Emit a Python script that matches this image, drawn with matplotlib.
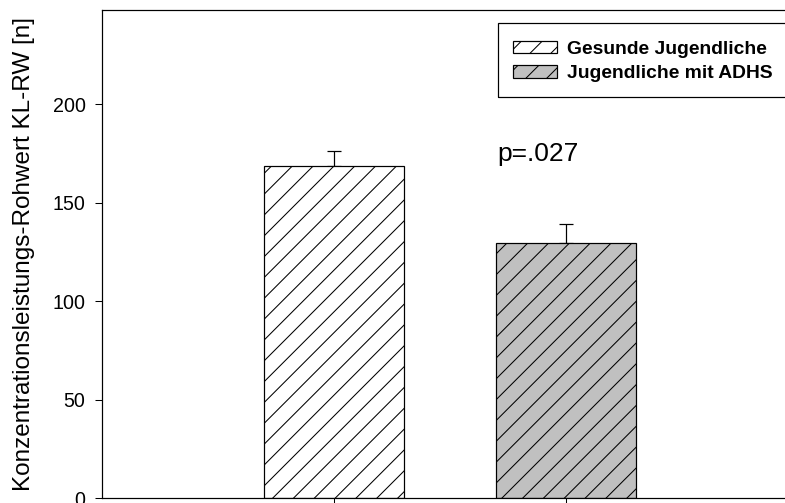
import matplotlib
matplotlib.use("Agg")
import matplotlib.pyplot as plt
from matplotlib.patches import Rectangle
import numpy as np

plt.rcParams["font.family"] = ["Liberation Sans", "DejaVu Sans"]
plt.rcParams["hatch.linewidth"] = 0.6

groups = ["Gesunde Jugendliche", "Jugendliche mit ADHS"]
means = [168.5, 129.5]
sem = [8.0, 10.0]
colors = ["#FFFFFF", "#C0C0C0"]
p_text = "p=.027"

DPI = 125
W, H = 785, 503
fig = plt.figure(figsize=(W / DPI, H / DPI), dpi=DPI)
ax = fig.add_axes([102 / W, 5 / H, 696 / W, 488 / H])

x = np.array([1, 2])
bars = ax.bar(x, means, 0.6, color=colors, edgecolor="black", linewidth=0.7,
              hatch="//", zorder=2)
for b, lab in zip(bars, groups):
    b.set_label(lab)
ax.errorbar(x, means, yerr=[[0, 0], sem], fmt="none", ecolor="black",
            elinewidth=0.7, capsize=4.2, capthick=0.7, zorder=1)

ax.text(1.703, 171.4, p_text, fontsize=15.2, va="baseline", ha="left")

ax.set_xlim(0, 3)
ax.set_ylim(0, 248)
ax.set_xticks(x)
ax.set_xticklabels([])
ax.set_yticks([0, 50, 100, 150, 200])
ax.tick_params(direction="out", length=4, width=0.6, labelsize=11.3, pad=5.5)
ax.set_ylabel("Konzentrationsleistungs-Rohwert KL-RW [n]", fontsize=14.0,
              labelpad=10)
for s in ax.spines.values():
    s.set_linewidth(0.7)

# legend without frame, box drawn separately (it runs past the right edge)
leg = ax.legend(loc="upper left", bbox_to_anchor=(498 / W, 1 - 26 / H),
                bbox_transform=fig.transFigure, frameon=False,
                prop={"weight": "bold", "size": 11.1},
                handlelength=2.28, handleheight=0.6, handletextpad=0.52,
                labelspacing=0.38, borderpad=0.78, borderaxespad=0)
fig.add_artist(Rectangle((498 / W, 1 - 97 / H), 300 / W, 74 / H,
                         transform=fig.transFigure, fill=False,
                         edgecolor="black", linewidth=0.7, clip_on=False))

fig.savefig("out.png", dpi=DPI)
